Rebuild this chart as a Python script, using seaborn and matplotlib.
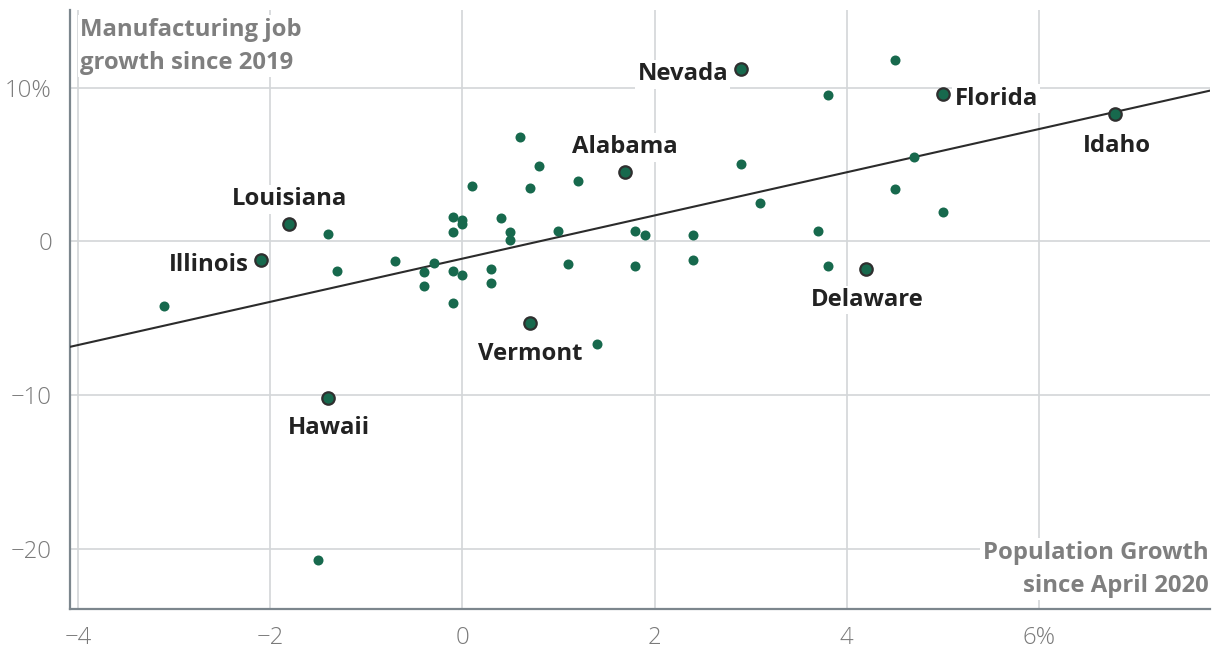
import numpy as np
import pandas as pd
import seaborn as sns
from matplotlib import pyplot as plt

# labelled states: population growth since April 2020 (%), manufacturing job growth since 2019 (%)
label_states = ["Nevada", "Florida", "Idaho", "Alabama", "Louisiana",
                "Illinois", "Delaware", "Vermont", "Hawaii"]
label_pop = [2.90, 5.00, 6.79, 1.69, -1.80, -2.10, 4.20, 0.70, -1.40]
label_jobs = [11.2, 9.6, 8.3, 4.5, 1.1, -1.2, -1.8, -5.3, -10.2]

# the other states
other_pop = [4.50, 3.80, 2.90, 4.70, 4.50, 3.10, 5.00, 2.40, 3.70, 2.40, 3.80,
             0.60, 0.80, 0.10, 0.70, 1.20, -0.10, 0.00, 0.00, -0.10, 0.40,
             0.50, 0.50, 1.00, 1.80, 1.90, -0.30, -0.40, -0.40, -0.10, 0.00,
             0.30, 0.30, -0.10, 1.10, 1.80, 1.40,
             -1.40, -1.30, -0.70, -3.10, -1.50]
other_jobs = [11.8, 9.5, 5.0, 5.5, 3.4, 2.5, 1.9, 0.4, 0.7, -1.2, -1.6,
              6.8, 4.9, 3.6, 3.5, 3.9, 1.6, 1.4, 1.1, 0.6, 1.5,
              0.6, 0.1, 0.7, 0.7, 0.4, -1.4, -2.0, -2.9, -1.9, -2.2,
              -1.8, -2.7, -4.0, -1.5, -1.6, -6.7,
              0.5, -1.9, -1.3, -4.2, -20.7]

x_ticks = [-4, -2, 0, 2, 4, 6]
x_ticklabels = ["\u22124", "\u22122", "0", "2", "4", "6%"]
y_ticks = [-20, -10, 0, 10]
y_ticklabels = ["\u221220", "\u221210", "0", "10%"]

# label placement in pixels relative to the dot (dx, dy, ha)
label_pos = {
    "Nevada": (-13, -5, "right"),
    "Florida": (12, -5, "left"),
    "Idaho": (2, -32, "center"),
    "Alabama": (0, 25, "center"),
    "Louisiana": (0, 25, "center"),
    "Illinois": (-12, -5, "right"),
    "Delaware": (1, -31, "center"),
    "Vermont": (1, -31, "center"),
    "Hawaii": (1, -30, "center"),
}

df = pd.DataFrame({"pop": label_pop + other_pop,
                   "jobs": label_jobs + other_jobs})
lab = pd.DataFrame({"state": label_states, "pop": label_pop, "jobs": label_jobs})
oth = pd.DataFrame({"pop": other_pop, "jobs": other_jobs})

sns.set_style("white")
plt.rcParams["font.family"] = ["Open Sans", "DejaVu Sans"]

green = "#17694d"
grid_c = "#d3d6d8"
spine_c = "#7c868d"
fs = 17.2

fig = plt.figure(figsize=(12.2, 6.66), dpi=100)
ax = fig.add_axes([70 / 1220, 57 / 666, 1140 / 1220, 599 / 666])

ax.set_xlim(-4.083, 7.78)
ax.set_ylim(-23.92, 15.05)

sns.regplot(data=df, x="pop", y="jobs", ax=ax, scatter=False, ci=None,
            truncate=False, color="#2b2b2b", line_kws={"lw": 1.5, "zorder": 3})

sns.scatterplot(data=oth, x="pop", y="jobs", ax=ax, color=green, s=52,
                linewidth=0, zorder=4)
sns.scatterplot(data=lab, x="pop", y="jobs", ax=ax, color=green, s=80,
                edgecolor="#2f2f2f", linewidth=1.6, zorder=5)

for _, r in lab.iterrows():
    dx, dy, ha = label_pos[r["state"]]
    ax.annotate(r["state"], (r["pop"], r["jobs"]), xytext=(dx, dy),
                textcoords="offset pixels", ha=ha, va="center",
                fontsize=fs, fontweight="bold", color="#222222", zorder=6,
                bbox=dict(boxstyle="square,pad=0.1", fc="white", ec="none"))

ax.set_xticks(x_ticks)
ax.set_xticklabels(x_ticklabels)
ax.set_yticks(y_ticks)
ax.set_yticklabels(y_ticklabels)
ax.tick_params(axis="both", labelsize=fs, labelcolor="#7a7a7a", length=4,
               width=1, color=grid_c)
ax.tick_params(axis="x", pad=12, length=0)
ax.tick_params(axis="y", pad=9)
for t in ax.get_xticklabels() + ax.get_yticklabels():
    t.set_fontweight("light")

ax.grid(True, color=grid_c, lw=1.2)
ax.set_axisbelow(True)
ax.set_xlabel("")
ax.set_ylabel("")

for s in ["top", "right"]:
    ax.spines[s].set_visible(False)
for s in ["left", "bottom"]:
    ax.spines[s].set_color(spine_c)
    ax.spines[s].set_linewidth(1.6)

ax.text(0.009, 0.987, "Manufacturing job\ngrowth since 2019", transform=ax.transAxes,
        ha="left", va="top", fontsize=fs, fontweight="bold", color="#7f7f7f",
        linespacing=1.5, zorder=7,
        bbox=dict(boxstyle="square,pad=0.1", fc="white", ec="none"))
ax.text(0.9985, 0.019, "Population Growth\nsince April 2020", transform=ax.transAxes,
        ha="right", va="bottom", fontsize=fs, fontweight="bold", color="#7f7f7f",
        linespacing=1.5, zorder=7,
        bbox=dict(boxstyle="square,pad=0.1", fc="white", ec="none"))

fig.savefig("out.png", dpi=100)
